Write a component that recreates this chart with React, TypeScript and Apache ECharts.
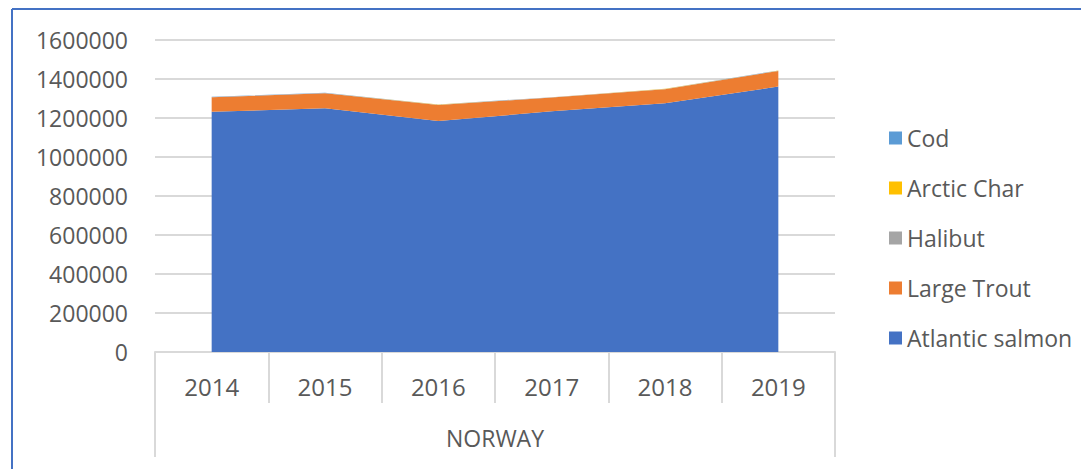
import React, { useEffect, useRef } from "react";
import * as echarts from "echarts";

const years = ["2014", "2015", "2016", "2017", "2018", "2019"];
const atlanticSalmon = [1232000, 1250000, 1185000, 1234000, 1276000, 1361000];
const largeTrout = [74000, 77000, 82000, 71000, 72000, 80000];
const halibut = [1400, 1200, 1300, 1400, 1300, 1900];
const arcticChar = [300, 300, 300, 300, 300, 300];
const cod = [900, 700, 500, 300, 400, 600];
const groupLabel = "NORWAY";
const legendOrder = ["Cod", "Arctic Char", "Halibut", "Large Trout", "Atlantic salmon"];

const FONT = "'Open Sans', sans-serif";
const TEXT = "#595959";
const GRID = "#d9d9d9";

export default function App() {
  const ref = useRef<HTMLDivElement>(null);
  useEffect(() => {
    if (!ref.current) return;
    const chart = echarts.init(ref.current, undefined, { renderer: "svg" });
    const mk = (name: string, data: number[], color: string) => ({
      name,
      type: "line",
      stack: "total",
      data,
      showSymbol: false,
      symbol: "none",
      lineStyle: { width: 0 },
      areaStyle: { color, opacity: 1 },
      itemStyle: { color },
    });
    chart.setOption({
      animation: false,
      textStyle: { fontFamily: FONT },
      grid: { left: 155, right: 246, top: 40, bottom: 117, containLabel: false },
      legend: {
        data: legendOrder,
        orient: "vertical",
        left: 884,
        top: 121,
        itemWidth: 13,
        itemHeight: 13,
        itemGap: 26,
        icon: "rect",
        textStyle: { fontFamily: FONT, fontSize: 23, color: TEXT, lineHeight: 24 },
      },
      xAxis: {
        type: "category",
        data: years,
        boundaryGap: true,
        axisLine: { lineStyle: { color: GRID, width: 2 } },
        axisTick: { show: true, interval: 0, length: 51, lineStyle: { color: GRID, width: 2 } },
        axisLabel: { color: TEXT, fontSize: 24, fontFamily: FONT, margin: 22 },
        name: groupLabel,
        nameLocation: "middle",
        nameGap: 74,
        nameTextStyle: { color: TEXT, fontSize: 23, fontFamily: FONT },
      },
      yAxis: {
        type: "value",
        min: 0,
        max: 1600000,
        interval: 200000,
        axisLine: { show: false },
        axisTick: { show: false },
        axisLabel: { color: TEXT, fontSize: 23, fontFamily: FONT, margin: 27, formatter: (v: number) => String(v) },
        splitLine: { lineStyle: { color: GRID, width: 2 } },
      },
      graphic: [
        { type: "line", shape: { x1: 155, y1: 352, x2: 155, y2: 457 }, style: { stroke: GRID, lineWidth: 2 } },
        { type: "line", shape: { x1: 835, y1: 352, x2: 835, y2: 457 }, style: { stroke: GRID, lineWidth: 2 } },
        { type: "line", shape: { x1: 12, y1: 9, x2: 1081, y2: 9 }, style: { stroke: "#4472C4", lineWidth: 2 } },
        { type: "line", shape: { x1: 12, y1: 9, x2: 12, y2: 469 }, style: { stroke: "#4472C4", lineWidth: 2 } },
      ],
      series: [
        mk("Atlantic salmon", atlanticSalmon, "#4472C4"),
        mk("Large Trout", largeTrout, "#ED7D31"),
        mk("Halibut", halibut, "#A5A5A5"),
        mk("Arctic Char", arcticChar, "#FFC000"),
        mk("Cod", cod, "#5B9BD5"),
      ],
    });
    return () => chart.dispose();
  }, []);
  return <div ref={ref} style={{ width: 1081, height: 469, position: "absolute", left: 0, top: 0 }} />;
}
